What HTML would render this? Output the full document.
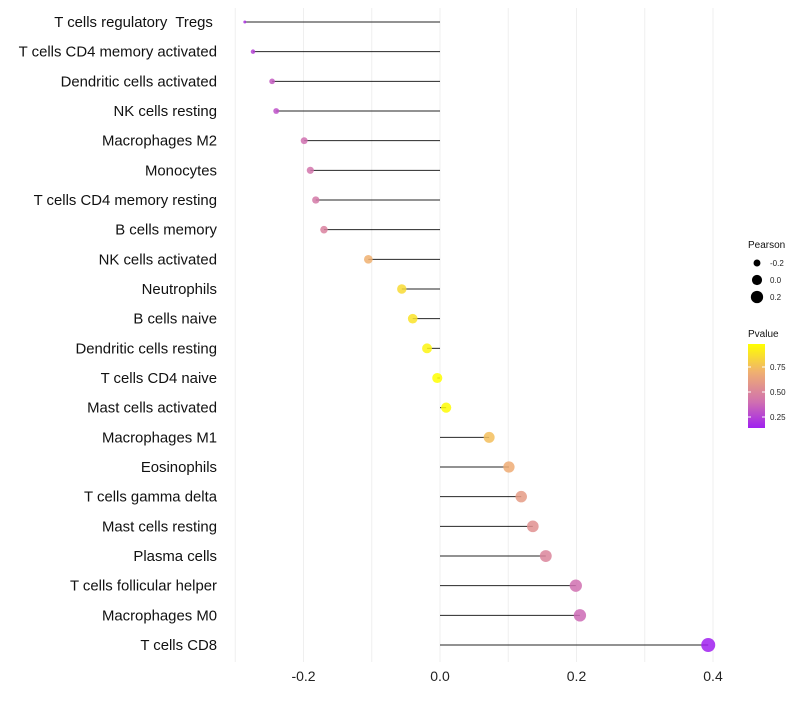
<!DOCTYPE html>
<html><head><meta charset="utf-8"><style>
body{margin:0;background:#fff;font-family:"Liberation Sans",sans-serif}
text{white-space:pre}
</style></head><body>
<svg id="chart" width="800" height="700" xmlns="http://www.w3.org/2000/svg"></svg>
<script>
const categories=["T cells regulatory  Tregs ","T cells CD4 memory activated","Dendritic cells activated","NK cells resting","Macrophages M2","Monocytes","T cells CD4 memory resting","B cells memory","NK cells activated","Neutrophils","B cells naive","Dendritic cells resting","T cells CD4 naive","Mast cells activated","Macrophages M1","Eosinophils","T cells gamma delta","Mast cells resting","Plasma cells","T cells follicular helper","Macrophages M0","T cells CD8"];
const pearson=[-0.286,-0.274,-0.246,-0.240,-0.199,-0.190,-0.182,-0.170,-0.105,-0.056,-0.040,-0.019,-0.004,0.009,0.072,0.101,0.119,0.136,0.155,0.199,0.205,0.393];
const pvalue=[0.20,0.25,0.33,0.30,0.40,0.42,0.44,0.48,0.70,0.85,0.88,0.94,0.98,0.97,0.75,0.68,0.60,0.55,0.50,0.40,0.38,0.12];
const xTicks=[-0.2,0.0,0.2,0.4];
const xMinor=[-0.3,-0.1,0.1,0.3];
const sizeLegend=[-0.2,0.0,0.2];
const colorTicks=[0.75,0.50,0.25];
const NS="http://www.w3.org/2000/svg";
const svg=document.getElementById('chart');
const x=v=>440+v*682.5;
const y=i=>22+i*29.667;
const r=v=>1.5+5.5*Math.sqrt(Math.max(0,(v+0.286)/0.679));
function col(p){
  const stops=[[0.14,[160,32,240]],[0.40,[208,112,176]],[0.70,[240,176,112]],[0.98,[255,255,0]]];
  if(p<=stops[0][0])return 'rgb('+stops[0][1]+')';
  for(let k=1;k<stops.length;k++){if(p<=stops[k][0]){const a=stops[k-1],b=stops[k],t=(p-a[0])/(b[0]-a[0]);return 'rgb('+a[1].map((c,j)=>Math.round(c+(b[1][j]-c)*t)).join(',')+')';}}
  return 'rgb(255,255,0)';
}
function mk(t,attrs,parent){const e=document.createElementNS(NS,t);for(const k in attrs)e.setAttribute(k,attrs[k]);(parent||svg).appendChild(e);return e;}
xMinor.concat(xTicks).forEach(v=>{
  const g=mk('line',{x1:x(v),x2:x(v),y1:8,y2:662,stroke:'#efefef','stroke-width':1});
  
  
});
xTicks.forEach(v=>{
  const t=mk('text',{x:x(v),y:681,'text-anchor':'middle','font-size':14,fill:'#222'});
  t.textContent=v.toFixed(1);
  
  
});
categories.forEach((c,i)=>{
  const t=mk('text',{x:217,y:y(i)+5,'text-anchor':'end','font-size':14.9,fill:'#111'});
  t.textContent=c;
  
  
  const l=mk('line',{x1:x(0),x2:x(pearson[i]),y1:y(i),y2:y(i),stroke:'#000','stroke-width':1,'stroke-opacity':0.85});
  
  
  const d=mk('circle',{cx:x(pearson[i]),cy:y(i),r:r(pearson[i]),fill:col(pvalue[i]),'fill-opacity':0.85});
  
  
});
const lt=mk('text',{x:748,y:248,'font-size':10,fill:'#111'});lt.textContent='Pearson';


sizeLegend.forEach((v,k)=>{
  const cy=263+k*17;
  const c=mk('circle',{cx:757,cy:cy,r:r(v),fill:'#000'});
  
  
  const t=mk('text',{x:770,y:cy+3,'font-size':8,fill:'#222'});t.textContent=v.toFixed(1);
  
  
});
const pt=mk('text',{x:748,y:337,'font-size':10,fill:'#111'});pt.textContent='Pvalue';


const defs=mk('defs',{});
const gr=mk('linearGradient',{id:'pg',x1:0,y1:1,x2:0,y2:0},defs);
[0.14,0.40,0.70,0.98].forEach(p=>mk('stop',{offset:(p-0.14)/0.84,'stop-color':col(p)},gr));
const bar=mk('rect',{x:748,y:344,width:17,height:84,fill:'url(#pg)'});


colorTicks.forEach(p=>{
  const cy=344+(0.98-p)/0.84*84;
  mk('line',{x1:748,x2:751,y1:cy,y2:cy,stroke:'#fff'});mk('line',{x1:762,x2:765,y1:cy,y2:cy,stroke:'#fff'});
  const t=mk('text',{x:770,y:cy+3,'font-size':8,fill:'#222'});t.textContent=p.toFixed(2);
  
  
});
</script>
</body></html>
